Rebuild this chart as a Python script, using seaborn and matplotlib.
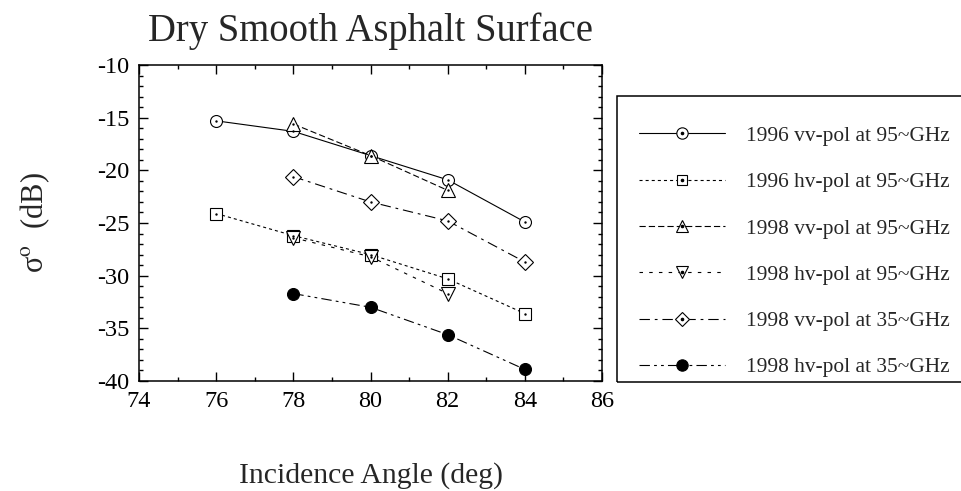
import matplotlib
matplotlib.use("Agg")
import matplotlib.pyplot as plt
from matplotlib.lines import Line2D
from matplotlib.patches import Rectangle
from matplotlib.ticker import MultipleLocator
import seaborn as sns
import pandas as pd

# ---------------- data ----------------
labels = [
    "1996 vv-pol at 95~GHz",
    "1996 hv-pol at 95~GHz",
    "1998 vv-pol at 95~GHz",
    "1998 hv-pol at 95~GHz",
    "1998 vv-pol at 35~GHz",
    "1998 hv-pol at 35~GHz",
]
angles_96_vv = [76, 78, 80, 82, 84]
sigma_96_vv = [-15.3, -16.3, -18.6, -20.9, -24.9]
angles_96_hv = [76, 78, 80, 82, 84]
sigma_96_hv = [-24.1, -26.2, -28.0, -30.3, -33.6]
angles_98_vv95 = [78, 80, 82]
sigma_98_vv95 = [-15.6, -18.6, -21.9]
angles_98_hv95 = [78, 80, 82]
sigma_98_hv95 = [-26.4, -28.2, -31.7]
angles_98_vv35 = [78, 80, 82, 84]
sigma_98_vv35 = [-20.6, -23.0, -24.8, -28.7]
angles_98_hv35 = [78, 80, 82, 84]
sigma_98_hv35 = [-31.7, -33.0, -35.6, -38.9]

xticks = [74, 76, 78, 80, 82, 84, 86]
yticks = [-40, -35, -30, -25, -20, -15, -10]

series_x = [angles_96_vv, angles_96_hv, angles_98_vv95, angles_98_hv95, angles_98_vv35, angles_98_hv35]
series_y = [sigma_96_vv, sigma_96_hv, sigma_98_vv95, sigma_98_hv95, sigma_98_vv35, sigma_98_hv35]

# ---------------- style ----------------
sns.set_style("ticks")
plt.rcParams["font.family"] = ["Liberation Serif", "DejaVu Serif"]
plt.rcParams["mathtext.fontset"] = "stix"
plt.rcParams["lines.scale_dashes"] = False

styles = [
    dict(ls="-", marker="o", ms=8.6, mfc="white", dot=True),
    dict(ls=(0, (2.2, 2.2)), marker="s", ms=8.0, mfc="white", dot=True),
    dict(ls=(0, (4.5, 2.2)), marker="^", ms=9.5, mfc="white", dot=True),
    dict(ls=(0, (2.5, 4.5)), marker="v", ms=9.5, mfc="white", dot=True),
    dict(ls=(0, (7.5, 3.5, 2.0, 3.5)), marker="D", ms=8.0, mfc="white", dot=True),
    dict(ls=(0, (7.5, 3.0, 2.0, 3.0, 2.0, 3.0)), marker="o", ms=8.6, mfc="black", dot=False),
]

fig = plt.figure(figsize=(9.61, 4.91), dpi=100)
ax_h = (381 - 65) / 491
ax = fig.add_axes([139 / 961, 1 - 381 / 491, (602 - 139) / 961, ax_h])

lw = 0.8
for x, y, st in zip(series_x, series_y, styles):
    df = pd.DataFrame({"angle": x, "sigma": y})
    sns.lineplot(data=df, x="angle", y="sigma", ax=ax, color="black", linewidth=lw,
                 linestyle=st["ls"], marker=st["marker"], markersize=st["ms"],
                 markerfacecolor=st["mfc"], markeredgecolor="black", markeredgewidth=0.8,
                 legend=False, zorder=3)
    if st["dot"]:
        sns.scatterplot(data=df, x="angle", y="sigma", ax=ax, color="black", s=3,
                        linewidth=0, legend=False, zorder=4)

ax.set_xlim(74, 86)
ax.set_ylim(-40, -10)
ax.set_xticks(xticks)
ax.set_yticks(yticks)
ax.set_xticklabels([str(v) for v in xticks])
ax.set_yticklabels([str(v) for v in yticks])
ax.xaxis.set_minor_locator(MultipleLocator(1))
ax.yaxis.set_minor_locator(MultipleLocator(1))
ax.tick_params(which="both", direction="in", top=True, right=True, colors="black",
               width=1.0)
ax.tick_params(which="major", length=6.5, labelsize=17.5, pad=7)
ax.tick_params(which="minor", length=3)
for sp in ax.spines.values():
    sp.set_linewidth(1.1)
    sp.set_color("black")

ax_px = 381 - 65
ax.set_xlabel("Incidence Angle (deg)", fontsize=21.4, va="baseline")
ax.xaxis.set_label_coords(0.5, -(483 - 381) / ax_px)
ax.set_ylabel("σ$^{\\mathrm{o}}$  (dB)", fontsize=22, va="baseline")
ax.yaxis.set_label_coords(-(139 - 43) / 463, (381 - 223) / ax_px)
ax.set_title("Dry Smooth Asphalt Surface", fontsize=27.8, pad=0,
             y=1 + (65 - 41) / ax_px, va="baseline")

# ---------------- legend ----------------
handles = []
for st in styles:
    h_line = Line2D([], [], color="black", lw=lw, linestyle=st["ls"], marker=st["marker"],
                    markersize=st["ms"] * 0.95, markerfacecolor=st["mfc"],
                    markeredgecolor="black", markeredgewidth=0.8)
    if st["dot"]:
        h_dot = Line2D([], [], linestyle="none", marker="o", markersize=1.6,
                       color="black")
        handles.append((h_line, h_dot))
    else:
        handles.append(h_line)

leg = fig.legend(handles, labels, loc="upper left",
                 bbox_to_anchor=(639 / 961, 1 - 126 / 491),
                 frameon=False, fontsize=15.4, numpoints=1, handlelength=4.0,
                 handletextpad=1.0, labelspacing=1.23, borderpad=0, borderaxespad=0)

rect = Rectangle((617 / 961, 1 - 382 / 491), 0.5, (382 - 96) / 491,
                 transform=fig.transFigure, fill=False, edgecolor="black",
                 linewidth=1.1, clip_on=False)
fig.add_artist(rect)

fig.savefig("out.png", dpi=100)
